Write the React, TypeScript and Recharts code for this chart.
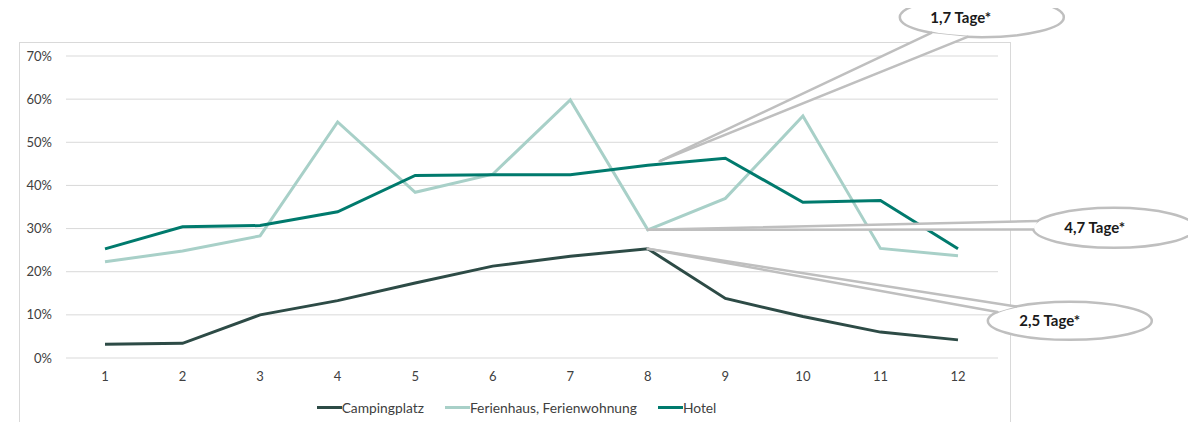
import { CartesianGrid, Legend, Line, LineChart, ReferenceDot, XAxis, YAxis } from 'recharts'

const months = ['1', '2', '3', '4', '5', '6', '7', '8', '9', '10', '11', '12']
const camping = [3.2, 3.4, 10.0, 13.3, 17.4, 21.3, 23.6, 25.3, 13.8, 9.6, 6.0, 4.2]
const ferien = [22.3, 24.8, 28.3, 54.7, 38.4, 42.6, 59.8, 29.7, 37.0, 56.1, 25.4, 23.7]
const hotel = [25.3, 30.4, 30.7, 33.9, 42.3, 42.5, 42.5, 44.7, 46.3, 36.1, 36.5, 25.3]
const yTicks = [0, 10, 20, 30, 40, 50, 60, 70]

const seriesNames = ['Campingplatz', 'Ferienhaus, Ferienwohnung', 'Hotel']
const seriesKeys = ['camping', 'ferien', 'hotel']
const seriesColors = ['#2d4b46', '#a8d0c8', '#007a6d']

// callout labels, anchored on month 8
const calloutLabels = ['1,7 Tage*', '4,7 Tage*', '2,5 Tage*']

const data = months.map((m, i) => ({
  month: m,
  camping: camping[i],
  ferien: ferien[i],
  hotel: hotel[i],
}))

const font = 'Lato, "Open Sans", sans-serif'
const axisTick = { fill: '#404040', fontSize: 13, fontFamily: font }
const bubbleStroke = '#bfbfbf'

type BubbleGeo = {
  tipDx: number
  tipDy: number
  ex: number
  ey: number
  rx: number
  ry: number
  a1: number
  a2: number
  textDx: number
}

// bubble placement relative to the anchored point
const bubbles: BubbleGeo[] = [
  { tipDx: 12, tipDy: -4, ex: 334, ey: -148, rx: 82, ry: 20, a1: 100, a2: 128, textDx: -21 },
  { tipDx: 0, tipDy: 0, ex: 466, ey: -2, rx: 81, ry: 20, a1: 175, a2: 200, textDx: -19 },
  { tipDx: 0, tipDy: 0, ex: 422, ey: 72, rx: 82, ry: 19, a1: 208, a2: 229, textDx: -20 },
]

function makeCallout(label: string, g: BubbleGeo) {
  return (props: any) => {
    const { cx, cy } = props
    if (cx == null || cy == null) return <g />
    const tx = cx + g.tipDx
    const ty = cy + g.tipDy
    const ecx = cx + g.ex
    const ecy = cy + g.ey
    const p = (deg: number) => {
      const t = (deg * Math.PI) / 180
      return [ecx + g.rx * Math.cos(t), ecy + g.ry * Math.sin(t)]
    }
    const [x1, y1] = p(g.a1)
    const [x2, y2] = p(g.a2)
    const tri = `${tx},${ty} ${x1},${y1} ${x2},${y2}`
    return (
      <g>
        <ellipse cx={ecx} cy={ecy} rx={g.rx} ry={g.ry} fill="#ffffff" stroke={bubbleStroke} strokeWidth={2.5} />
        <polygon points={tri} fill="#ffffff" stroke="none" />
        <line x1={tx} y1={ty} x2={x1} y2={y1} stroke={bubbleStroke} strokeWidth={2.5} strokeLinecap="round" />
        <line x1={tx} y1={ty} x2={x2} y2={y2} stroke={bubbleStroke} strokeWidth={2.5} strokeLinecap="round" />
        <text
          x={ecx + g.textDx}
          y={ecy}
          dy="0.36em"
          textAnchor="middle"
          fontFamily={font}
          fontWeight={700}
          fontSize={15}
          fill="#1a1a1a"
        >
          {label}
        </text>
      </g>
    )
  }
}

function LegendRow() {
  return (
    <div
      style={{
        display: 'flex',
        justifyContent: 'center',
        gap: 21,
        height: 18,
        alignItems: 'center',
        fontFamily: font,
        fontSize: 13.8,
        color: '#404040',
      }}
    >
      {seriesNames.map((name, i) => (
        <span key={name} style={{ display: 'flex', alignItems: 'center' }}>
          <span style={{ display: 'inline-block', width: 25, height: 3, background: seriesColors[i] }} />
          <span>{name}</span>
        </span>
      ))}
    </div>
  )
}

export default function App() {
  const anchorValues = [hotel[7], ferien[7], camping[7]]
  return (
    <div style={{ position: 'relative', width: 1188, height: 414, overflow: 'hidden' }}>
      <div
        style={{
          position: 'absolute',
          left: 11,
          top: 34,
          width: 992,
          height: 420,
          border: '1px solid #d9d9d9',
          boxSizing: 'border-box',
        }}
      />
      <LineChart width={1188} height={414} data={data} margin={{ top: 48, right: 198, left: 0, bottom: 16 }}>
        <CartesianGrid stroke="#d9d9d9" strokeWidth={1} vertical={false} />
        <XAxis
          dataKey="month"
          tick={axisTick}
          axisLine={false}
          tickLine={false}
          tickMargin={8}
          height={30}
          padding={{ left: 39, right: 40 }}
        />
        <YAxis
          domain={[0, 70]}
          ticks={yTicks}
          tickFormatter={(v) => `${v}%`}
          tick={axisTick}
          axisLine={false}
          tickLine={false}
          tickMargin={8}
          width={58}
        />
        <Legend
          verticalAlign="bottom"
          content={() => <LegendRow />}
          wrapperStyle={{ left: 0, width: 1017, top: 390, bottom: 'auto' }}
        />
        {seriesKeys.map((k, i) => (
          <Line
            key={k}
            type="linear"
            dataKey={k}
            name={seriesNames[i]}
            stroke={seriesColors[i]}
            strokeWidth={3}
            dot={false}
            activeDot={false}
            isAnimationActive={false}
          />
        ))}
        {calloutLabels.map((label, i) => (
          <ReferenceDot
            key={label}
            x="8"
            y={anchorValues[i]}
            ifOverflow="visible"
            shape={makeCallout(label, bubbles[i])}
          />
        ))}
      </LineChart>
    </div>
  )
}
